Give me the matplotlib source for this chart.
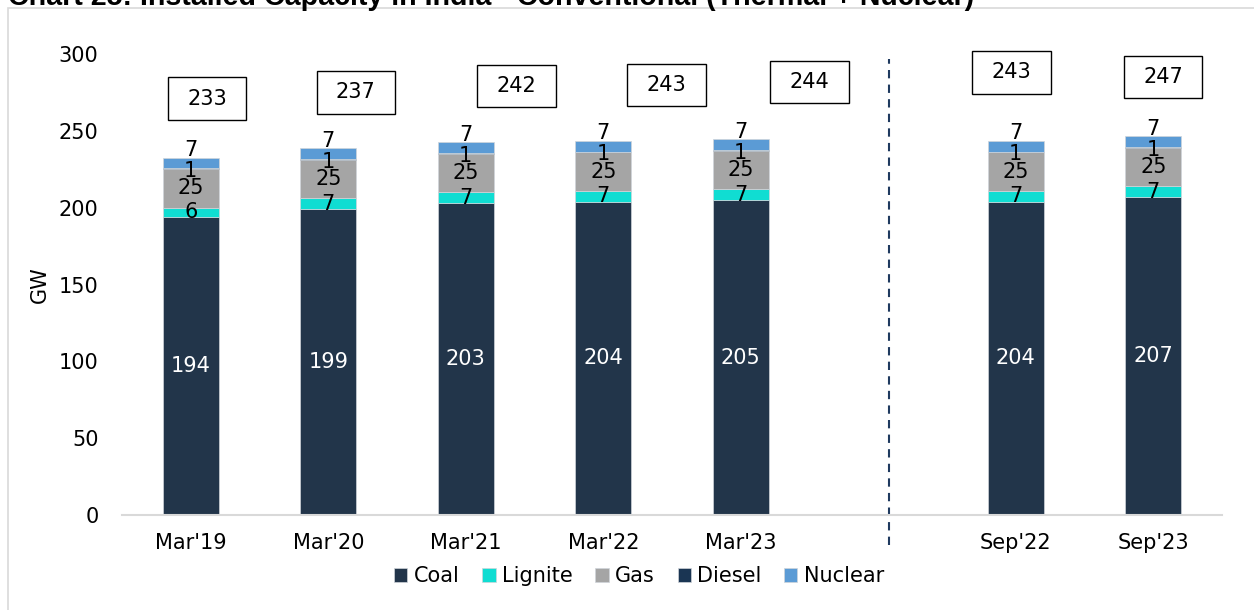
import matplotlib
matplotlib.use("Agg")
import matplotlib.pyplot as plt
from matplotlib.patches import Rectangle
from matplotlib.lines import Line2D
import numpy as np

# ---------- data ----------
categories = ["Mar'19", "Mar'20", "Mar'21", "Mar'22", "Mar'23", "Sep'22", "Sep'23"]
coal = [194, 199, 203, 204, 205, 204, 207]
lignite = [6, 7, 7, 7, 7, 7, 7]
gas = [25, 25, 25, 25, 25, 25, 25]
diesel = [0.5, 0.5, 0.5, 0.5, 0.5, 0.5, 0.5]
nuclear = [7, 7, 7, 7, 7, 7, 7]
totals = [233, 237, 242, 243, 244, 243, 247]

series_names = ["Coal", "Lignite", "Gas", "Diesel", "Nuclear"]
colors = ["#22354A", "#10DDD2", "#A5A5A5", "#1A3553", "#5B9BD5"]

# layout: x positions (gap before the Sep columns) and where the total boxes sit
x_pos = np.array([0, 1, 2, 3, 4, 6, 7])
box_x = [0.12, 1.20, 2.37, 3.46, 4.50, 5.97, 7.07]
box_y = [271, 275, 279, 280, 282, 288, 285]


def excel_round(v):
    return int(np.floor(v + 0.5))


plt.rcParams["font.family"] = ["DejaVu Sans"]

fig = plt.figure(figsize=(12.54, 6.10), dpi=100)
ax = fig.add_axes([0.0973, 0.1557, 0.8772, 0.7558])

values = [coal, lignite, gas, diesel, nuclear]
bottom = np.zeros(len(categories))
width = 0.41
centers = []
for name, vals, col in zip(series_names, values, colors):
    vals = np.array(vals, dtype=float)
    ax.bar(x_pos, vals, width, bottom=bottom, color=col, label=name,
           edgecolor="#D0D5DA", linewidth=0.5, zorder=2)
    centers.append(bottom + vals / 2)
    bottom = bottom + vals

# segment labels
lbl = 15
for i, x in enumerate(x_pos):
    ax.text(x, centers[0][i], str(coal[i]), ha="center", va="center",
            color="white", fontsize=lbl, zorder=3)
    ax.text(x, centers[1][i], str(lignite[i]), ha="center", va="center",
            color="black", fontsize=lbl, zorder=3)
    ax.text(x, centers[2][i], str(gas[i]), ha="center", va="center",
            color="black", fontsize=lbl, zorder=3)
    ax.text(x, centers[3][i] - 1.5, str(excel_round(diesel[i])), ha="center",
            va="center", color="black", fontsize=lbl, zorder=3)
    ax.annotate(str(nuclear[i]), (x, bottom[i]), xytext=(0, 1),
                textcoords="offset points", ha="center", va="baseline",
                color="black", fontsize=lbl, zorder=3)

# total boxes
bw, bh = 0.57, 27.5
for bx, by, t in zip(box_x, box_y, totals):
    ax.add_patch(Rectangle((bx - bw / 2, by - bh / 2), bw, bh, facecolor="white",
                           edgecolor="black", linewidth=1.0, clip_on=False, zorder=4))
    ax.text(bx, by, str(t), ha="center", va="center", fontsize=15, zorder=5)

# dashed separator between annual and half-year columns
ax.add_line(Line2D([5.08, 5.08], [-19.5, 297], color="#1F3A5F", linestyle=(0, (4, 3)),
                   linewidth=1.5, clip_on=False, zorder=1))

ax.set_xlim(-0.5, 7.5)
ax.set_ylim(0, 300)
ax.set_yticks(np.arange(0, 301, 50))
ax.set_xticks(x_pos)
ax.set_xticklabels(categories)
ax.tick_params(axis="both", length=0, labelsize=15)
ax.tick_params(axis="y", pad=17)
ax.tick_params(axis="x", pad=13)
ax.set_ylabel("GW", fontsize=15, labelpad=6)

for s in ["top", "right", "left"]:
    ax.spines[s].set_visible(False)
ax.spines["bottom"].set_color("#D9D9D9")
ax.spines["bottom"].set_linewidth(1.5)

ax.legend(loc="center", bbox_to_anchor=(0.5096, 0.0557), bbox_transform=fig.transFigure,
          ncol=5, frameon=False, fontsize=15, handlelength=0.63, handleheight=0.63,
          handletextpad=0.3, columnspacing=1.1, borderaxespad=0)

# outer frame and clipped title
fig.add_artist(Rectangle((8 / 1254, -0.01), 1.05, 1 - 8 / 610 + 0.01, transform=fig.transFigure,
                         facecolor="none", edgecolor="#D9D9D9", linewidth=1.2))
fig.text(8 / 1254, 1 - 5 / 610, "Chart 25: Installed Capacity in India - Conventional (Thermal + Nuclear)",
         fontsize=20.6, fontweight="bold", family="Liberation Sans", ha="left", va="baseline")

fig.savefig("out.png", dpi=100)
